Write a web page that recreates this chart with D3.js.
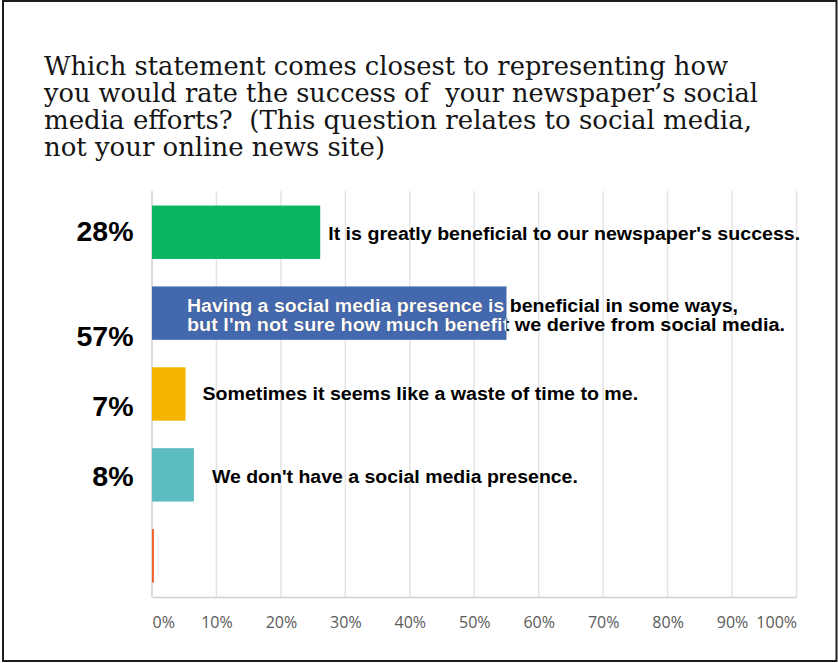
<!DOCTYPE html>
<html>
<head>
<meta charset="utf-8">
<script src="https://cdn.jsdelivr.net/npm/d3@7"></script>
<style>
  html, body { margin: 0; padding: 0; background: #fff; }
  svg { display: block; }
</style>
</head>
<body>
<script>
// ---------- data ----------
const titleLines = [
  "Which statement comes closest to representing how",
  "you would rate the success of\u00a0 your newspaper\u2019s social",
  "media efforts?\u00a0 (This question relates to social media,",
  "not your online news site)"
];
const categories = ["Greatly beneficial", "Beneficial in some ways", "Waste of time", "No social media presence", "Other"];
const barValues = [26.1, 55.0, 5.2, 6.5, 0.3];          // bar lengths as drawn (percent axis)
const percentLabels = ["28%", "57%", "7%", "8%", ""];
const statementLines = [
  ["It is greatly beneficial to our newspaper's success."],
  ["Having a social media presence is beneficial in some ways,",
   "but I'm not sure how much benefit we derive from social media."],
  ["Sometimes it seems like a waste of time to me."],
  ["We don't have a social media presence."],
  []
];
const barColors = ["#0bb45f", "#4468ae", "#f6b500", "#5bbcc1", "#f4622c"];
const tickValues = [0, 10, 20, 30, 40, 50, 60, 70, 80, 90, 100];

// ---------- layout (styles / positions, not data) ----------
const W = 838, H = 663;
const titleWidths = [684, 714, 708, 341];
const pctDy = [8.4, 32.7, 21.7, 11, 0];
const stmtDx = [8, null, 17, 18, 0];     // offset from bar end (null = inside-start)
const stmtDy = [[7.7], [-1, 17.4], [6.4], [8.3], []];
const stmtWidths = [[472], [551, 598], [435.6], [366], []];

const svg = d3.select("body").append("svg").attr("width", W).attr("height", H);

// frame
svg.append("rect").attr("x", 3).attr("y", 1).attr("width", 833.5).attr("height", 660)
  .attr("fill", "#fff").attr("stroke", "#1e1e1e").attr("stroke-width", 2);

// title (one text block, one tspan per line)
svg.append("text")
  .style("font-family", "'DejaVu Serif', serif")
  .style("font-size", "26.5px")
  .style("fill", "#151515")
  .selectAll("tspan").data(titleLines).join("tspan")
  .attr("x", 44)
  .attr("y", (d, i) => 74.5 + i * 27)
  .attr("textLength", (d, i) => titleWidths[i])
  .attr("lengthAdjust", "spacingAndGlyphs")
  .text(d => d);

// scales
const x = d3.scaleLinear().domain([0, 100]).range([152, 796.5]);
const y = d3.scaleBand().domain(categories).range([191, 597]).paddingInner(0.34).paddingOuter(0.18);

// gridlines
svg.append("g").selectAll("line").data(tickValues.filter(t => t > 0)).join("line")
  .attr("x1", d => x(d)).attr("x2", d => x(d))
  .attr("y1", 191).attr("y2", 597)
  .attr("stroke", "#e4e4e4").attr("stroke-width", 1.5);

// x axis
const xAxis = svg.append("g").attr("transform", "translate(0,597)")
  .call(d3.axisBottom(x).tickValues(tickValues).tickFormat(d => d + "%").tickSize(0).tickPadding(30.5));
xAxis.select(".domain").attr("stroke", "#cfcfcf").attr("stroke-width", 1.5);
xAxis.selectAll("text")
  .style("font-family", "'Open Sans', sans-serif")
  .style("font-size", "16px")
  .style("fill", "#5a5a5a")
  .attr("dy", "0")
  .attr("text-anchor", (d, i) => i === 0 ? "start" : (i === tickValues.length - 1 ? "end" : "middle"));

// left axis line
svg.append("line").attr("x1", x(0)).attr("x2", x(0)).attr("y1", 191).attr("y2", 597)
  .attr("stroke", "#cfcfcf").attr("stroke-width", 1.5);

// bars
svg.append("g").selectAll("rect").data(categories).join("rect")
  .attr("x", x(0))
  .attr("y", d => y(d))
  .attr("width", (d, i) => x(barValues[i]) - x(0))
  .attr("height", y.bandwidth())
  .attr("fill", (d, i) => barColors[i]);

// percent labels
svg.append("g").selectAll("text").data(categories).join("text")
  .attr("x", 133.5)
  .attr("y", (d, i) => y(d) + y.bandwidth() / 2 + pctDy[i])
  .attr("text-anchor", "end")
  .style("font-family", "'Liberation Sans', Arial, sans-serif")
  .style("font-weight", "bold")
  .style("font-size", "28.5px")
  .style("fill", "#000")
  .text((d, i) => percentLabels[i]);

// clip for white text inside the blue bar
const defs = svg.append("defs");
categories.forEach((c, i) => {
  defs.append("clipPath").attr("id", "clip" + i).append("rect")
    .attr("x", x(0)).attr("y", y(c))
    .attr("width", x(barValues[i]) - x(0)).attr("height", y.bandwidth());
});

// statements
categories.forEach((c, i) => {
  const lines = statementLines[i];
  if (!lines.length) return;
  const sx = stmtDx[i] === null ? x(0) + 35 : x(barValues[i]) + stmtDx[i];
  const cy = y(c) + y.bandwidth() / 2;
  const layers = stmtDx[i] === null ? [["#000", null], ["#fff", "url(#clip" + i + ")"]] : [["#000", null]];
  layers.forEach(([fill, clip]) => {
    const g = svg.append("g");
    if (clip) g.attr("clip-path", clip);
    g.selectAll("text").data(lines).join("text")
      .attr("x", sx)
      .attr("y", (d, j) => cy + stmtDy[i][j])
      .attr("textLength", (d, j) => stmtWidths[i][j])
      .attr("lengthAdjust", "spacingAndGlyphs")
      .style("font-family", "'Liberation Sans', Arial, sans-serif")
      .style("font-weight", "bold")
      .style("font-size", "17.5px")
      .style("fill", fill)
      .text(d => d);
  });
});
</script>
</body>
</html>
